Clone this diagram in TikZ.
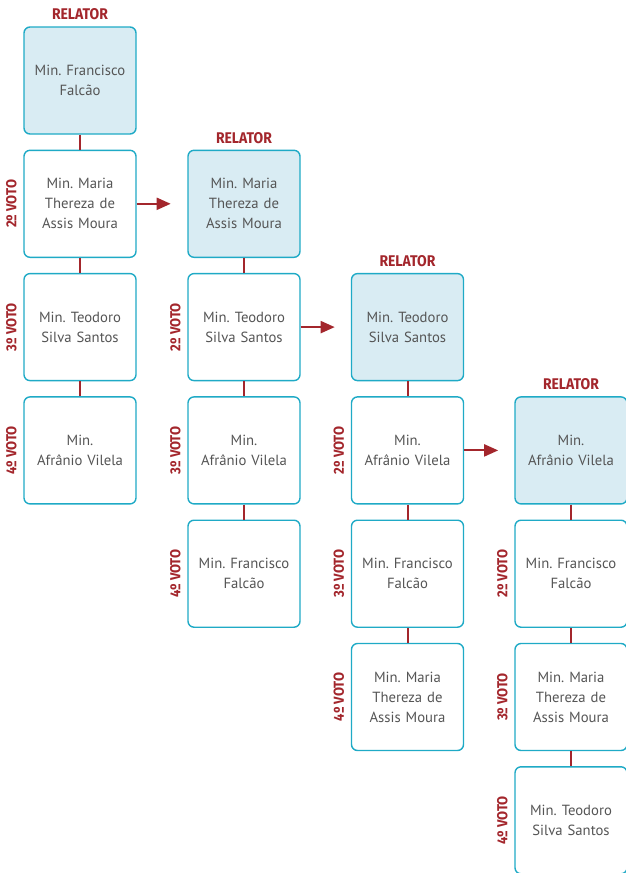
\documentclass[tikz,border=0pt]{standalone}
\usepackage{fontspec}
\setmainfont{PT Sans}
\newfontfamily\rotulo{Fira Sans}[FakeStretch=0.9]
\usetikzlibrary{positioning,arrows.meta,calc}
\definecolor{borda}{HTML}{1FAAC6}
\definecolor{fundo}{HTML}{D9ECF3}
\definecolor{vinho}{HTML}{A3262C}
\definecolor{texto}{HTML}{555555}
\frenchspacing

\tikzset{
  caixa/.style={draw=borda, line width=1.4pt, rounded corners=6pt, fill=white,
    minimum width=112pt, minimum height=107pt, text width=100pt, align=center,
    text=texto, font=\fontsize{14.7}{20}\selectfont},
  relatorbox/.style={caixa, fill=fundo},
  relator/.style={text=vinho, font=\rotulo\bfseries\fontsize{15.5}{15}\selectfont, inner sep=0pt},
  voto/.style={text=vinho, font=\rotulo\bfseries\fontsize{14.5}{15}\selectfont, rotate=90, inner sep=0pt},
  liga/.style={draw=vinho, line width=2pt},
  seta/.style={draw=vinho, line width=2pt, -{Triangle[length=14pt,width=12pt]}}
}

\begin{document}
\begin{tikzpicture}[x=1pt,y=1pt]
  \useasboundingbox (0,0) rectangle (626,-873);
  % Column 1
  \node[relatorbox] (c1r1) at (80,-80.5) {Min. Francisco\\Falcão};
  \node[caixa] (c1r2) at (80,-203.8) {Min. Maria\\Thereza de\\Assis Moura};
  \node[caixa] (c1r3) at (80,-327.1) {Min. Teodoro\\Silva Santos};
  \node[caixa] (c1r4) at (80,-450.4) {Min.\\Afrânio Vilela};
  % Column 2
  \node[relatorbox] (c2r1) at (244,-203.8) {Min. Maria\\Thereza de\\Assis Moura};
  \node[caixa] (c2r2) at (244,-327.1) {Min. Teodoro\\Silva Santos};
  \node[caixa] (c2r3) at (244,-450.4) {Min.\\Afrânio Vilela};
  \node[caixa] (c2r4) at (244,-573.7) {Min. Francisco\\Falcão};
  % Column 3
  \node[relatorbox] (c3r1) at (407.5,-327.1) {Min. Teodoro\\Silva Santos};
  \node[caixa] (c3r2) at (407.5,-450.4) {Min.\\Afrânio Vilela};
  \node[caixa] (c3r3) at (407.5,-573.7) {Min. Francisco\\Falcão};
  \node[caixa] (c3r4) at (407.5,-697) {Min. Maria\\Thereza de\\Assis Moura};
  % Column 4
  \node[relatorbox] (c4r1) at (571,-450.4) {Min.\\Afrânio Vilela};
  \node[caixa] (c4r2) at (571,-573.7) {Min. Francisco\\Falcão};
  \node[caixa] (c4r3) at (571,-697) {Min. Maria\\Thereza de\\Assis Moura};
  \node[caixa] (c4r4) at (571,-820.3) {Min. Teodoro\\Silva Santos};

  % Relator labels
  \node[relator, above=6pt of c1r1] (r1) {RELATOR};
  \node[relator, above=6pt of c2r1] (r2) {RELATOR};
  \node[relator, above=6pt of c3r1] (r3) {RELATOR};
  \node[relator, above=6pt of c4r1] (r4) {RELATOR};

  % Vote labels
  \node[voto] (v12) at ([xshift=-12pt]c1r2.west) {2º VOTO};
  \node[voto] (v13) at ([xshift=-12pt]c1r3.west) {3º VOTO};
  \node[voto] (v14) at ([xshift=-12pt]c1r4.west) {4º VOTO};
  \node[voto] (v22) at ([xshift=-12pt]c2r2.west) {2º VOTO};
  \node[voto] (v23) at ([xshift=-12pt]c2r3.west) {3º VOTO};
  \node[voto] (v24) at ([xshift=-12pt]c2r4.west) {4º VOTO};
  \node[voto] (v32) at ([xshift=-12pt]c3r2.west) {2º VOTO};
  \node[voto] (v33) at ([xshift=-12pt]c3r3.west) {3º VOTO};
  \node[voto] (v34) at ([xshift=-12pt]c3r4.west) {4º VOTO};
  \node[voto] (v42) at ([xshift=-12pt]c4r2.west) {2º VOTO};
  \node[voto] (v43) at ([xshift=-12pt]c4r3.west) {3º VOTO};
  \node[voto] (v44) at ([xshift=-12pt]c4r4.west) {4º VOTO};

  % Links
  \foreach \c in {1,2,3,4}{
    \draw[liga] (c\c r1) -- (c\c r2);
    \draw[liga] (c\c r2) -- (c\c r3);
    \draw[liga] (c\c r3) -- (c\c r4);
  }

  % Arrows
  \coordinate (s1) at ([xshift=34pt]c1r2.east);
  \coordinate (s2) at ([xshift=34pt]c2r2.east);
  \coordinate (s3) at ([xshift=34pt]c3r2.east);
  \draw[seta] (c1r2.east) -- (s1);
  \draw[seta] (c2r2.east) -- (s2);
  \draw[seta] (c3r2.east) -- (s3);
\end{tikzpicture}
\end{document}
